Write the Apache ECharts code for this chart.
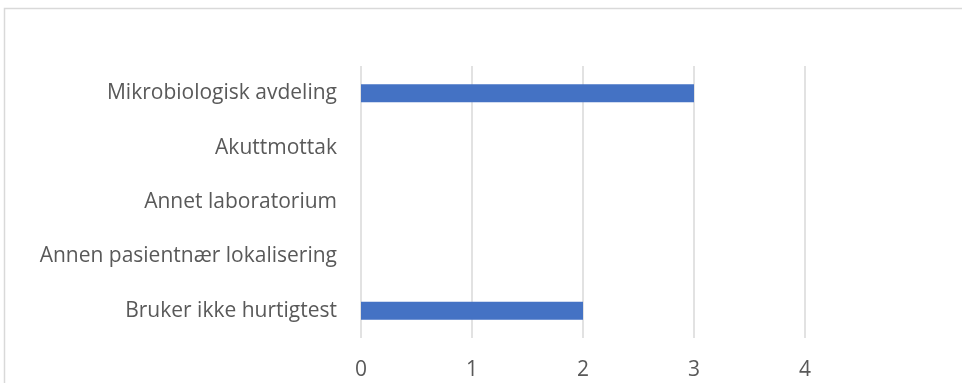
<!DOCTYPE html>
<html>
<head>
<meta charset="utf-8">
<script src="https://cdn.jsdelivr.net/npm/echarts@6/dist/echarts.min.js"></script>
<style>
  html, body { margin: 0; padding: 0; background: #fff; }
  #chart { width: 962px; height: 383px; }
</style>
</head>
<body>
<div id="chart"></div>
<script>
// Places where rapid tests are used (count of responses)
const categories = [
  'Bruker ikke hurtigtest',
  'Annen pasientnær lokalisering',
  'Annet laboratorium',
  'Akuttmottak',
  'Mikrobiologisk avdeling'
];
const counts = [2, 0, 0, 0, 3];
const tickValues = [0, 1, 2, 3, 4];

const chart = echarts.init(document.getElementById('chart'));
const textColor = '#595959';
const fontFamily = 'Open Sans, sans-serif';

chart.setOption({
  animation: false,
  graphic: [{
    type: 'rect',
    shape: { x: 4.5, y: 8.5, width: 1000, height: 400 },
    style: { fill: 'none', stroke: '#d9d9d9', lineWidth: 1.5 },
    silent: true
  }],
  grid: { left: 361, right: 157, top: 66, bottom: 45 },
  xAxis: {
    type: 'value',
    min: tickValues[0],
    max: tickValues[tickValues.length - 1],
    interval: 1,
    axisLine: { show: false },
    axisTick: { show: false },
    splitLine: { lineStyle: { color: '#d9d9d9', width: 1.5 } },
    axisLabel: { color: textColor, fontSize: 21, fontFamily: fontFamily, margin: 22 }
  },
  yAxis: {
    type: 'category',
    data: categories,
    axisLine: { show: false },
    axisTick: { show: false },
    axisLabel: { color: textColor, fontSize: 21, fontFamily: fontFamily, margin: 24, padding: [2, 0, 0, 0] }
  },
  series: [{
    type: 'bar',
    data: counts,
    barWidth: 18,
    itemStyle: { color: '#4472c4' }
  }]
});
</script>
</body>
</html>
